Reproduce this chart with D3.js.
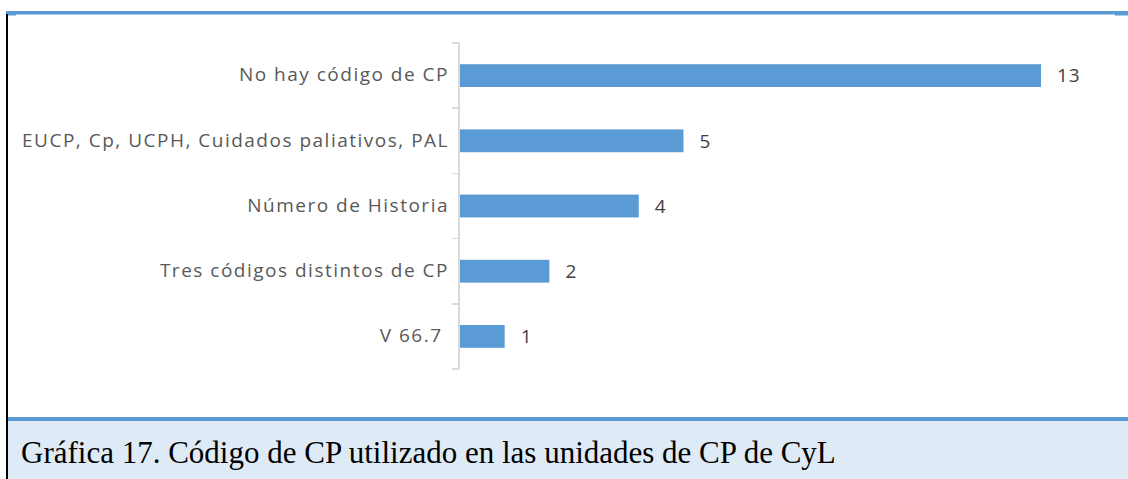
<!DOCTYPE html>
<html>
<head>
<meta charset="UTF-8">
<title>Código de CP</title>
<script src="https://cdn.jsdelivr.net/npm/d3@7"></script>
<style type="text/css">
body, html {
    margin: 0;
    padding: 0;
    background: #fff;
}
.axis line {
    fill: none;
    stroke: #d9d9d9;
    stroke-width: 1.5;
    shape-rendering: crispEdges;
}
.cat {
    font: 19px "Open Sans", sans-serif;
    letter-spacing: 1.5px;
    fill: #595959;
    white-space: pre;
}
.val {
    font: 19px "Open Sans", sans-serif;
    letter-spacing: 1px;
    fill: #404040;
}
.caption {
    font: 31px "Liberation Serif", "Times New Roman", serif;
    fill: #000;
}
</style>
</head>
<body>

<div class="barGraph"></div>

<script type="text/javascript">
var categories = ["No hay código de CP", "EUCP, Cp, UCPH, Cuidados paliativos, PAL", "Número de Historia", "Tres códigos distintos de CP", "V 66.7 "];
var values     = [13, 5, 4, 2, 1];
var caption    = "Gráfica 17. Código de CP utilizado en las unidades de CP de CyL";

var W = 1128, H = 479;

var svg = d3.select(".barGraph")
    .append("svg")
    .attr("width", W)
    .attr("height", H);

// frame: top blue rule, left black rule, caption box
svg.append("rect").attr("x", 6).attr("y", 11).attr("width", W - 6).attr("height", 3.5).attr("fill", "#5b9bd5");
svg.append("rect").attr("x", 6).attr("y", 14).attr("width", 10).attr("height", 1.5).attr("fill", "#5b9bd5");
svg.append("rect").attr("x", 1115).attr("y", 14).attr("width", 13).attr("height", 1.5).attr("fill", "#5b9bd5");
svg.append("rect").attr("x", 6).attr("y", 14).attr("width", 2).attr("height", H - 14).attr("fill", "#000");
svg.append("rect").attr("x", 8).attr("y", 421).attr("width", W - 8).attr("height", H - 421).attr("fill", "#deeaf6");
svg.append("rect").attr("x", 8).attr("y", 417).attr("width", W - 8).attr("height", 4).attr("fill", "#5b9bd5");

svg.append("text")
    .attr("class", "caption")
    .attr("x", 21)
    .attr("y", 463)
    .text(caption);

// chart
var axisX = 459, plotTop = 43, plotBottom = 369;

var x = d3.scaleLinear().domain([0, 13]).range([axisX, 1040]);
var y = d3.scaleBand().domain(categories).range([plotTop, plotBottom]).paddingInner(0.65).paddingOuter(0.325);

var yTicks = d3.scaleLinear().domain([0, categories.length]).range([plotTop, plotBottom]);

var axis = svg.append("g").attr("class", "axis");
axis.append("line")
    .attr("x1", axisX).attr("x2", axisX)
    .attr("y1", plotTop).attr("y2", plotBottom);
axis.selectAll("line.tick")
    .data(d3.range(categories.length + 1))
    .enter()
    .append("line")
    .attr("class", "tick")
    .attr("x1", axisX - 7).attr("x2", axisX)
    .attr("y1", function (d) { return yTicks(d); })
    .attr("y2", function (d) { return yTicks(d); });

svg.selectAll("rect.bar")
    .data(values)
    .enter()
    .append("rect")
    .attr("class", "bar")
    .attr("fill", "#5b9bd5")
    .attr("x", x(0) + 1)
    .attr("y", function (d, i) { return y(categories[i]); })
    .attr("width", function (d) { return x(d) - x(0); })
    .attr("height", y.bandwidth());

svg.selectAll("text.val")
    .data(values)
    .enter()
    .append("text")
    .attr("class", "val")
    .attr("x", function (d) { return x(d) + 17; })
    .attr("y", function (d, i) { return y(categories[i]) + y.bandwidth() / 2; })
    .attr("dy", "0.36em")
    .text(function (d) { return d; });

svg.selectAll("text.cat")
    .data(categories)
    .enter()
    .append("text")
    .attr("class", "cat")
    .attr("x", 449)
    .attr("y", function (d) { return y(d) + y.bandwidth() / 2; })
    .attr("dy", "0.3em")
    .attr("text-anchor", "end")
    .text(function (d) { return d; });
</script>
</body>
</html>
